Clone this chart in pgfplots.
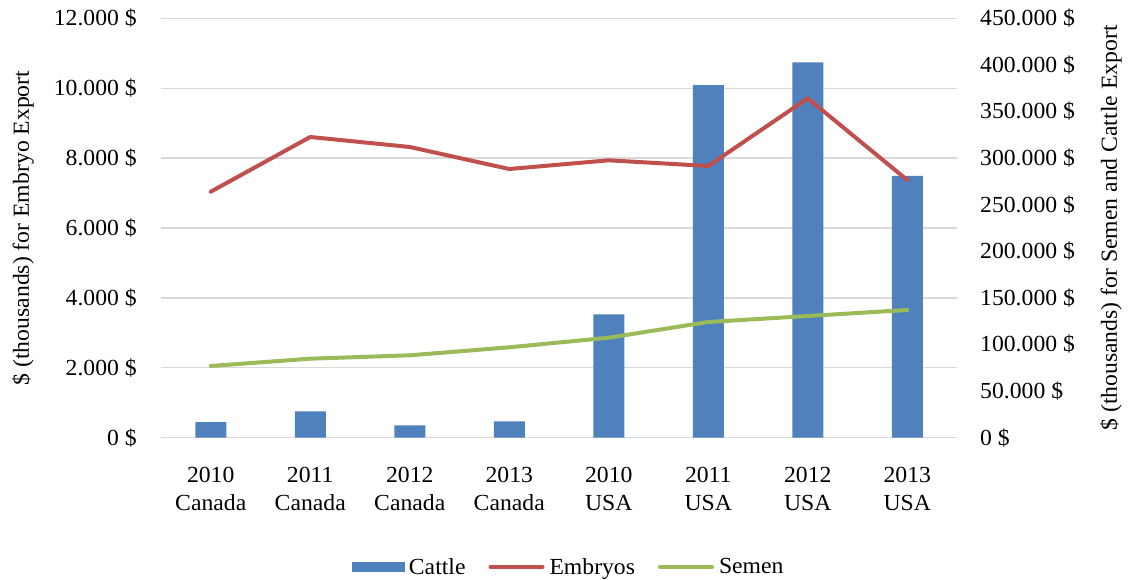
\documentclass[border=0pt]{standalone}
\usepackage{pgfplots}
\pgfplotsset{compat=1.18}
\usepackage{pgfplotstable}
\usepackage{fontspec}
\setmainfont[FakeStretch=1.03]{Liberation Serif}

\definecolor{cattle}{HTML}{4F81BD}
\definecolor{embryo}{HTML}{C0504D}
\definecolor{semen}{HTML}{9BBB59}
\definecolor{gridc}{HTML}{D9D9D9}

% export values, $ thousands
\pgfplotstableread{
idx cattle embryos semen
0 16845 7039 76930
1 28326 8604 84770
2 13300 8318 88410
3 17600 7688 97000
4 132400 7937 107300
5 378400 7774 124150
6 402800 9711 130580
7 280800 7373 137020
}\exports

\newcommand{\chartfont}{\fontsize{23}{28}\selectfont}

\begin{document}
\begin{tikzpicture}
\useasboundingbox (-161pt,-141.3pt) rectangle (968pt,437.7pt);
\pgfplotsset{
  base/.style={
    scale only axis, width=796pt, height=419.4pt,
    at={(0pt,0pt)}, anchor=south west,
    xmin=-0.5, xmax=7.5,
    axis line style={draw=none},
    major tick length=0pt,
    scaled y ticks=false, scaled x ticks=false,
    tick label style={font=\chartfont},
    label style={font=\chartfont},
  }
}
% left scale, gridlines and categories
\begin{axis}[base,
  ymin=0, ymax=12000,
  ytick={0,2000,4000,6000,8000,10000,12000},
  yticklabels={0 \$,2.000 \$,4.000 \$,6.000 \$,8.000 \$,10.000 \$,12.000 \$},
  yticklabel style={inner sep=0pt, anchor=east, xshift=-24pt},
  ymajorgrids, grid style={gridc, line width=1.3pt},
  xtick={0,1,2,3,4,5,6,7},
  xticklabels={2010\\Canada,2011\\Canada,2012\\Canada,2013\\Canada,2010\\USA,2011\\USA,2012\\USA,2013\\USA},
  xticklabel style={align=center, inner sep=0pt, anchor=north, yshift=-29.5pt},
  ylabel={\$ (thousands) for Embryo Export},
  every axis y label/.style={at={(axis description cs:-0.1734,0.5)}, anchor=center, rotate=90, font=\chartfont},
]
\end{axis}
% right scale: cattle bars and semen line
\begin{axis}[base,
  ymin=0, ymax=450000,
  ytick={0,50000,100000,150000,200000,250000,300000,350000,400000,450000},
  yticklabels={0 \$,50.000 \$,100.000 \$,150.000 \$,200.000 \$,250.000 \$,300.000 \$,350.000 \$,400.000 \$,450.000 \$},
  yticklabel pos=right,
  yticklabel style={inner sep=0pt, anchor=west, xshift=23pt},
  xtick=\empty,
  ylabel={\$ (thousands) for Semen and Cattle Export},
  every axis y label/.style={at={(axis description cs:1.1935,0.5)}, anchor=center, rotate=90, font=\chartfont},
]
\addplot[ybar, bar width=31pt, bar shift=0pt, fill=cattle, draw=none] table[x=idx, y=cattle] {\exports};
\addplot[semen, line width=4pt, line cap=round, line join=round] table[x=idx, y=semen] {\exports};
\end{axis}
% embryo line on the left scale, drawn over the bars; legend
\begin{axis}[base,
  ymin=0, ymax=12000,
  hide axis,
  legend style={at={(axis description cs:0.5126,-0.308)}, anchor=center,
    draw=none, fill=none, font=\chartfont, legend columns=-1,
    nodes={inner sep=3pt},
    /tikz/every odd column/.append style={column sep=2pt},
    /tikz/every even column/.append style={column sep=20pt}},
]
\addlegendimage{legend image code/.code={\fill[cattle] (0pt,-4.5pt) rectangle (52pt,4.5pt);}}
\addlegendentry{Cattle}
\addplot[embryo, line width=4pt, line cap=round, line join=round,
  legend image code/.code={\draw[embryo, line width=4pt, line cap=round] (0pt,0pt) -- (52pt,0pt);}]
  table[x=idx, y=embryos] {\exports};
\addlegendentry{Embryos}
\addlegendimage{legend image code/.code={\draw[semen, line width=4pt, line cap=round] (0pt,0pt) -- (52pt,0pt);}}
\addlegendentry{Semen}
\end{axis}
\end{tikzpicture}
\end{document}
